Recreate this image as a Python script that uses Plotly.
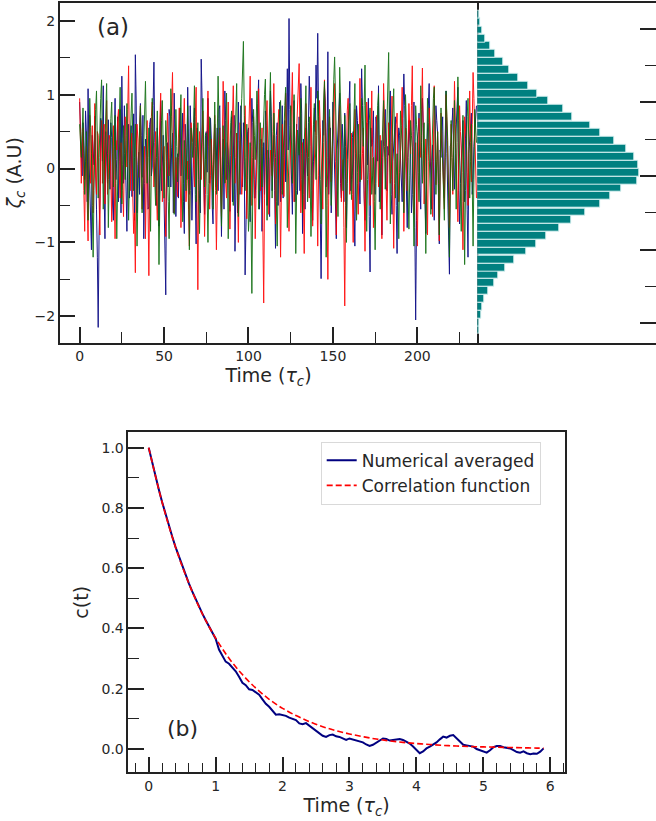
import numpy as np
import plotly.graph_objects as go

# ---------------- data: panel (a) ----------------
# values at integer times t = 0, 1, 2, ...
navy_vals = [
 0.90, 0.35, 0.62, -0.15, 0.48, 1.08, -0.32, -1.10, 0.25, 0.71, -0.55, -2.15, -0.40, 0.55, 1.12, -0.95, 0.18, 0.66, -0.28, 0.42,
 -0.70, 0.95, 0.12, -0.45, 0.80, 1.25, -0.20, 0.30, -0.85, 0.60, 0.05, -0.38, 0.74, 1.54, -0.60, 0.22, 0.88, -0.12, -0.95, 0.40,
 0.15, -0.52, 0.68, 0.02, 1.44, -0.30, 0.55, -0.78, 0.92, 0.10, -0.42, -1.71, 0.35, 0.80, -0.25, 0.48, 1.02, -0.65, 0.20, 0.58,
 -0.10, 0.75, -0.88, 0.30, 1.10, -0.35, 0.45, -0.05, 0.82, -1.02, 0.28, -0.40, 1.48, 0.15, -0.62, 0.50, 0.95, -0.20, 0.38, -0.75,
 0.60, 0.12, -0.30, 0.85, -0.92, 0.40, 1.05, -0.15, 0.25, -0.58, 0.70, 0.02, -1.12, 0.48, 0.90, -0.35, 0.18, 0.62, -1.44, 0.30,
 0.55, -0.72, 0.95, 0.08, -0.40, 0.68, 1.20, -0.22, -0.85, 0.35, 0.78, -0.50, 0.12, 1.05, -0.30, 0.45, -1.08, 0.62, 0.20, -0.45,
 0.85, 0.30, -0.18, 1.35, 2.03, 0.40, -0.62, 0.92, 0.15, -0.35, 0.70, 1.15, -0.88, 0.25, 0.55, -0.10, 1.25, 0.48, -0.70, 0.82,
 1.40, 1.83, 0.20, -1.49, 0.65, 1.10, -0.25, 1.58, 0.35, -0.60, 0.90, 0.05, -0.95, 0.60, 1.02, -0.40, 0.28, 0.75, -0.80, 0.42,
 1.18, -0.15, 0.50, -1.05, 0.85, 0.22, -0.48, 1.35, 0.10, -0.70, 0.62, 0.95, -1.40, 0.30, 0.78, -0.35, 0.52, 1.12, -0.22, -0.90,
 0.45, 0.80, -0.30, 0.18, 1.05, -0.62, 0.35, 0.70, -1.15, 0.55, 0.12, -0.45, 1.28, 0.38, -0.80, 0.65, 0.20, -0.35, 0.90, -2.05,
 0.40, 0.75, -0.55, 0.95, 0.08, -0.88, 0.60, 1.15, -0.20, 0.32, -0.70, 0.85, 0.48, -1.02, 0.15, 0.70, -0.40, 1.05, -0.62, -1.43,
 0.35, 0.82, -0.28, 0.55, 1.10, -0.75, 0.20, 0.65, -0.45, 0.92, -1.20, 0.38, 0.75, -0.15, 0.50, 0.85,
]
red_vals = [
 0.95, -0.20, 0.55, -0.85, 0.30, -0.98, 0.72, 0.10, -0.60, 0.88, -0.35, 0.45, -0.90, 0.65, 0.05, -0.48, 0.92, -0.15, 0.38, -0.72,
 0.58, -0.95, 0.25, 0.80, -0.40, 0.15, -0.65, 0.70, 0.02, 1.39, -0.30, 0.48, -0.88, -1.41, 0.60, -0.12, 0.85, -0.55, 0.22, -0.95,
 0.65, -1.45, 0.35, 0.90, -0.25, 0.50, -0.70, 0.18, 1.02, -0.45, 0.30, -0.92, 0.75, -0.10, 0.40, 1.30, -0.60, 0.15, -0.38, 0.82,
 -0.80, 0.28, 0.95, -0.45, 0.10, -1.05, 0.62, 0.35, -0.25, 1.10, -1.64, 0.50, -0.15, 0.78, -0.92, 0.20, 1.05, -0.55, 0.40, -0.30,
 0.72, -1.10, 0.25, 0.55, -0.65, 1.18, 0.08, -0.40, 0.90, -0.82, 0.35, 1.12, -0.20, 0.48, -1.00, 0.62, -0.35, 0.15, 0.85, -0.68,
 0.30, 1.25, -0.50, 0.70, -0.95, 0.18, 1.08, -0.30, 0.55, -1.82, 0.40, 0.92, -0.62, 0.25, -0.10, 1.15, -0.75, 0.45, 0.80, -1.20,
 0.60, -0.38, 1.02, 0.15, -0.85, 0.50, 1.30, -0.45, 0.22, 0.75, 1.42, -0.60, 0.35, -1.15, 0.88, 0.05, -0.40, 1.10, -0.78, 0.30,
 0.65, -1.05, 0.92, 0.20, -0.55, 1.20, 0.38, -1.50, 0.70, -0.18, 0.52, 1.15, -0.90, 0.28, 0.85, -0.45, 0.12, -1.86, 0.60, 0.95,
 -0.35, 0.48, -1.00, 0.80, 0.25, -0.62, 1.22, -0.15, 0.55, -1.12, 0.90, 0.35, -0.50, 1.05, -0.80, 0.18, 0.72, -0.25, 0.45, -0.95,
 1.15, 0.30, -0.70, 0.62, -0.20, 0.98, -1.08, 0.42, 0.75, -0.45, 0.12, 1.10, -0.85, 0.55, -0.30, 0.88, 0.20, 1.39, -0.62, 0.35,
 -1.05, 0.68, 0.15, 1.36, -0.48, 0.40, -0.90, 0.82, 0.28, -0.65, 1.12, -0.22, 0.50, -0.98, 0.75, 0.10, -0.55, 1.00, 0.32, -0.80,
 0.60, -0.35, 1.18, 0.05, -0.72, 0.85, 0.25, -1.10, 0.70, 0.42, -0.50, 1.05, -0.18, 1.30, 0.55, -0.40,
]
green_vals = [
 0.60, 0.15, 0.82, -0.35, 0.50, -0.70, 0.95, 0.20, -1.20, 0.45, 1.05, -0.40, 0.65, 1.20, -0.55, 0.30, 1.15, -0.80, 0.48, 0.90,
 -0.25, 0.72, -0.95, 0.35, 1.10, -0.48, 0.58, -0.15, 0.88, -0.70, 0.42, 1.02, -0.30, 0.60, -1.05, 0.25, 0.85, -0.60, 0.40, 1.18,
 -0.20, 0.55, -0.85, 0.95, 0.12, -0.50, 0.78, -1.30, 0.35, 0.92, -0.40, 0.65, 0.05, -0.95, 1.08, 0.28, -0.62, 0.80, -0.18, 0.50,
 1.00, -0.72, 0.38, -0.30, 0.85, -1.10, 0.55, 0.15, 1.12, -0.45, 0.62, -0.88, 0.30, 0.95, -0.25, 0.48, -1.00, 0.70, 0.20, -0.55,
 0.90, -0.35, 1.25, 0.10, -0.78, 0.58, -0.20, 1.02, -0.95, 0.45, 0.78, -0.50, 0.25, 1.15, -0.65, 0.40, 0.95, 1.72, -0.30, 0.60,
 -0.85, 0.35, -1.69, 0.80, 0.12, 1.05, -0.55, 0.62, -0.25, 0.90, 1.21, -0.70, 0.45, 1.30, -0.40, 0.75, 0.15, -1.05, 0.58, 0.92,
 -0.35, 0.65, 1.10, -0.80, 0.30, 0.85, -0.20, 1.00, -1.15, 0.52, 0.18, 0.95, -0.60, 0.40, 1.12, -0.45, 0.70, -0.92, 0.28, 0.88,
 -0.15, 1.05, 0.40, -0.75, 0.62, 1.18, -1.20, 0.35, 0.80, -0.50, 0.95, 1.51, 0.10, -0.65, 1.37, 0.45, -0.30, 0.72, -1.00, 0.55,
 0.88, -0.42, 0.25, 1.15, -0.70, 0.60, -0.18, 0.95, 0.30, 1.40, -0.85, 0.48, 0.82, -0.35, 0.15, -1.10, 0.70, 1.02, -0.55, 0.38,
 0.92, -0.28, 0.60, 1.57, -0.75, 0.45, 1.08, -0.40, 0.20, -0.95, 0.78, 0.35, -0.60, 1.00, 0.12, -0.82, 0.65, 0.28, -1.05, 0.85,
 0.40, -0.45, 1.12, -0.20, 0.62, -1.15, 0.95, 0.30, -0.62, 0.78, 1.10, -0.35, 0.50, -0.90, 0.82, 0.15, -0.70, 1.05, 0.38, -1.20,
 0.65, -0.30, 0.92, -0.55, 1.24, 0.20, -0.85, 0.72, -1.30, 0.48, 0.95, -0.40, 0.60, -1.05, 0.80, 0.35,
]
# values at half-integer times t = 0.5, 1.5, 2.5, ...
navy_half = [
 0.55, -0.10, 0.30, 0.78, -0.45, 0.20, -0.80, 0.45, 0.05, -0.30, -1.20, -0.90, 0.68, 0.10, -0.35, 0.50, -0.20, 0.25, 0.62, -0.48,
 0.30, -0.15, 0.70, 0.10, -0.60, 0.40, 0.85, -0.25, 0.20, -0.40, 0.58, 0.15, -0.70, 0.90, 0.05, -0.35, 0.45, 0.72, -0.20, 0.30,
 -0.55, 0.60, -0.10, 0.85, 0.35, -0.50, 0.18, 0.62, -0.30, 0.45, -0.95, 0.10, -0.25, 0.70, 0.28, -0.60, 0.38, 0.05, -0.40, 0.82,
 0.25, -0.45, 0.60, -0.15, 0.40, 0.85, -0.70, 0.30, -0.35, 0.55, 0.12, -0.60, 0.95, -0.20, 0.45, -0.05, 0.30, 0.68, -0.50, 0.22,
 -0.25, 0.55, 0.80, -0.40, 0.10, -0.55, 0.65, 0.35, -0.30, 0.18, -0.45, 0.72, 0.05, -0.60, 0.38, 0.85, -0.25, 0.10, -0.75, 0.50,
 -0.15, 0.30, 0.62, -0.40, 0.20, 0.88, -0.55, 0.40, 0.12, -0.35, 0.58, 0.25, -0.65, 0.70, 0.08, -0.30, 0.45, -0.50, 0.90, 0.20,
 -0.40, 0.65, 0.95, 0.25, 0.80, -0.20, 0.35, -0.45, 0.60, 0.15, -0.30, 0.75, 0.40, -0.55, 0.20, 0.62, 0.85, -0.25, 0.10, 0.50,
 0.95, 0.70, -0.60, 0.30, 0.45, 0.90, 0.15, -0.35, 0.55, -0.10, 0.38, -0.50, 0.25, 0.80, -0.20, 0.60, -0.45, 0.30, 0.12, 0.70,
 -0.30, 0.42, -0.55, 0.20, 0.65, -0.15, 0.48, 0.85, -0.40, 0.25, 0.05, -0.65, 0.55, 0.35, -0.20, 0.70, 0.10, -0.45, 0.38, 0.15,
 0.62, -0.25, 0.30, 0.78, -0.35, 0.10, 0.55, -0.50, 0.22, 0.45, -0.30, 0.68, 0.85, -0.20, 0.15, 0.40, -0.60, 0.50, -0.80, -0.70,
 0.50, -0.25, 0.35, 0.62, -0.40, 0.18, 0.80, 0.30, -0.55, 0.10, 0.45, 0.65, -0.35, 0.25, 0.50, -0.15, 0.40, 0.20, -0.90, 0.30,
 0.55, 0.10, 0.28, 0.75, -0.30, -0.20, 0.45, 0.15, 0.40, -0.55, 0.20, 0.58, -0.35, 0.30, 0.65,
]
red_half = [
 0.40, 0.25, -0.30, 0.10, -0.45, 0.30, -0.20, 0.58, 0.15, -0.10, 0.50, -0.40, 0.25, -0.20, 0.60, 0.30, -0.35, 0.45, -0.15, 0.20,
 -0.25, 0.38, 0.65, -0.10, 0.35, -0.30, 0.20, 0.45, 0.80, 0.10, 0.25, -0.40, -0.60, 0.15, 0.40, 0.50, -0.20, -0.15, 0.30, -0.30,
 -0.50, -0.20, 0.70, 0.25, 0.10, -0.35, -0.15, 0.62, 0.30, -0.05, -0.45, 0.20, 0.35, 0.15, 0.85, 0.20, -0.30, -0.10, 0.40, 0.05,
 -0.25, 0.60, 0.30, -0.20, -0.55, 0.20, 0.48, 0.05, 0.70, -0.40, -0.30, 0.20, 0.35, -0.15, -0.35, 0.60, 0.25, -0.10, 0.05, 0.30,
 -0.30, -0.35, 0.40, 0.10, 0.35, 0.55, -0.20, 0.30, 0.05, -0.25, 0.68, 0.40, 0.15, -0.35, -0.20, 0.10, -0.10, 0.45, 0.25, -0.15,
 0.75, 0.38, 0.15, -0.15, -0.30, 0.62, 0.35, 0.12, -0.80, -0.40, 0.65, 0.10, -0.20, 0.08, 0.50, 0.20, -0.15, 0.60, -0.25, -0.30,
 0.15, 0.30, 0.55, -0.40, -0.10, 0.85, 0.40, -0.10, 0.48, 0.95, 0.30, -0.15, -0.35, -0.05, 0.45, -0.20, 0.30, 0.20, -0.25, 0.45,
 -0.30, -0.10, 0.55, -0.20, 0.35, 0.75, -0.50, -0.40, 0.25, 0.15, 0.82, 0.10, -0.30, 0.55, 0.20, -0.15, -0.80, -0.50, 0.78, 0.30,
 0.05, -0.35, 0.10, 0.50, -0.20, 0.35, 0.40, 0.20, -0.30, -0.10, 0.62, -0.05, 0.30, 0.15, -0.25, 0.45, 0.30, 0.10, -0.20, 0.05,
 0.70, -0.25, -0.05, 0.20, 0.35, -0.30, -0.20, 0.60, 0.15, -0.15, 0.58, 0.05, -0.15, 0.10, 0.30, 0.55, 0.85, 0.30, -0.10, -0.40,
 -0.10, 0.40, 0.80, 0.45, -0.05, -0.30, 0.10, 0.55, -0.20, 0.25, 0.40, 0.12, -0.30, -0.05, 0.40, -0.25, 0.30, 0.65, -0.25, -0.10,
 0.15, 0.40, 0.60, -0.35, 0.10, 0.50, -0.45, -0.20, 0.55, -0.05, 0.30, 0.35, 0.60, 0.95, 0.05,
]
green_half = [
 0.35, 0.50, 0.20, 0.10, -0.15, 0.25, 0.55, -0.50, -0.30, 0.80, 0.30, 0.15, 0.95, 0.30, -0.10, 0.70, 0.20, -0.15, 0.68, 0.35,
 0.25, -0.20, -0.25, 0.70, 0.30, 0.05, 0.20, 0.38, 0.10, -0.15, 0.75, 0.35, 0.15, -0.25, -0.40, 0.55, 0.10, -0.10, 0.80, 0.45,
 0.15, -0.20, 0.10, 0.50, -0.20, 0.15, -0.30, -0.45, 0.65, 0.25, 0.10, 0.35, -0.45, 0.05, 0.70, -0.15, 0.10, 0.30, 0.15, 0.75,
 0.10, -0.20, 0.05, 0.28, -0.15, -0.30, 0.35, 0.62, 0.30, 0.10, -0.15, -0.25, 0.65, 0.30, 0.12, -0.35, -0.20, 0.45, -0.15, 0.20,
 0.25, 0.40, 0.68, -0.35, -0.10, 0.20, 0.40, 0.05, -0.25, 0.62, 0.15, -0.10, 0.70, 0.25, -0.15, 0.68, 1.30, 0.72, 0.15, -0.10,
 -0.60, -0.70, -0.40, 0.45, 0.60, 0.25, 0.05, 0.20, 0.30, 1.00, 0.20, -0.15, 0.85, 0.45, 0.20, 0.45, -0.45, -0.20, 0.75, 0.30,
 0.15, 0.85, 0.15, -0.25, 0.58, 0.30, 0.40, 0.05, -0.30, 0.35, 0.55, 0.20, -0.10, 0.78, 0.30, 0.15, -0.10, -0.30, 0.60, 0.35,
 0.45, 0.70, -0.15, -0.05, 0.90, -0.10, -0.40, 0.55, 0.15, 0.20, 1.20, 0.85, -0.30, 0.40, 0.90, 0.05, 0.20, -0.15, -0.20, 0.70,
 0.25, -0.10, 0.70, 0.25, -0.05, 0.20, 0.40, 0.65, 0.85, 0.25, -0.15, 0.65, 0.25, -0.10, -0.45, -0.20, 0.85, 0.25, -0.10, 0.65,
 0.30, 0.15, 1.05, 0.40, -0.15, 0.75, 0.35, -0.10, -0.35, -0.05, 0.55, 0.10, 0.20, 0.55, -0.30, -0.10, 0.45, -0.35, -0.10, 0.60,
 -0.05, 0.30, 0.45, 0.20, -0.25, -0.10, 0.62, -0.15, 0.10, 0.95, 0.40, 0.10, -0.20, -0.05, 0.48, -0.25, 0.15, 0.70, -0.40, -0.30,
 0.15, 0.30, 0.20, 0.35, 0.65, -0.30, -0.05, -0.25, -0.30, 0.70, 0.25, 0.10, -0.20, -0.10, 0.55,
]

# histogram (horizontal bars), bin centres bottom -> top, counts (arb. units)
hist_bins = [-2.09, -1.99, -1.88, -1.77, -1.67, -1.56, -1.45, -1.34, -1.24, -1.13,
             -1.02, -0.92, -0.81, -0.70, -0.59, -0.49, -0.38, -0.27, -0.16, -0.06,
             0.05, 0.16, 0.26, 0.37, 0.48, 0.59, 0.69, 0.80, 0.91, 1.02,
             1.12, 1.23, 1.34, 1.44, 1.55, 1.66, 1.77, 1.87, 1.98, 2.09, 2.19]
hist_counts = [1.7, 2.3, 4.0, 5.0, 7.3, 11.3, 16.7, 21.3, 28.0, 37.0,
               49.0, 59.0, 69.0, 82.0, 94.3, 108.3, 122.7, 132.7, 144.3, 159.7,
               162.3, 161.0, 156.7, 149.0, 137.3, 123.3, 112.7, 94.7, 85.7, 71.3,
               59.7, 51.0, 41.3, 32.3, 25.7, 18.0, 12.7, 7.7, 5.3, 3.3, 1.7]

# ---------------- data: panel (b) ----------------
corr_num = [
 1.000, 0.952, 0.905, 0.862, 0.820, 0.779, 0.742, 0.706, 0.671, 0.639,
 0.607, 0.578, 0.550, 0.523, 0.497, 0.472, 0.450, 0.428, 0.406, 0.386,
 0.366, 0.330, 0.310, 0.290, 0.283, 0.272, 0.258, 0.240, 0.220, 0.212,
 0.198, 0.196, 0.188, 0.180, 0.165, 0.150, 0.140, 0.128, 0.114, 0.115,
 0.112, 0.110, 0.104, 0.100, 0.096, 0.085, 0.082, 0.086, 0.078, 0.070,
 0.060, 0.052, 0.044, 0.040, 0.046, 0.048, 0.042, 0.040, 0.034, 0.030,
 0.035, 0.032, 0.030, 0.026, 0.022, 0.015, 0.010, 0.014, 0.022, 0.030,
 0.035, 0.033, 0.028, 0.030, 0.031, 0.033, 0.030, 0.024, 0.018, 0.008,
 -0.004, -0.014, -0.008, 0.002, 0.008, 0.014, 0.022, 0.032, 0.041, 0.038,
 0.044, 0.046, 0.036, 0.024, 0.014, 0.012, 0.010, 0.008, 0.000, -0.004,
 -0.010, -0.012, -0.004, 0.006, 0.010, 0.010, 0.006, 0.004, 0.002, -0.004,
 -0.010, -0.012, -0.008, -0.014, -0.017, -0.015, -0.016, -0.009, 0.002,
]
time_num = np.round(np.arange(len(corr_num)) * 0.05, 2)

time_theory = [0.0, 0.2, 0.4, 0.6, 0.8, 1.0, 1.2, 1.4, 1.6, 1.8, 2.0, 2.2, 2.4, 2.6, 2.8, 3.0,
               3.2, 3.4, 3.6, 3.8, 4.0, 4.2, 4.4, 4.6, 4.8, 5.0, 5.2, 5.4, 5.6, 5.8, 5.9]
corr_theory = [1.000, 0.819, 0.670, 0.549, 0.449, 0.368, 0.301, 0.247, 0.202, 0.165, 0.135,
               0.111, 0.091, 0.074, 0.061, 0.050, 0.041, 0.033, 0.027, 0.022, 0.018,
               0.015, 0.012, 0.010, 0.008, 0.007, 0.006, 0.005, 0.004, 0.003, 0.003]


def merged(whole, half):
    """Combine integer-time and half-integer-time samples into one time-ordered series."""
    t = np.concatenate([np.arange(len(whole)), np.arange(len(half)) + 0.5])
    v = np.concatenate([whole, half])
    order = np.argsort(t)
    return t[order], v[order]


# ---------------- figure ----------------
W, H = 656, 821
FONT = "DejaVu Sans"
TXT = "#262626"
FR = "#222222"

fig = go.Figure()

for whole, half, col in [(navy_vals, navy_half, "#000080"),
                         (red_vals, red_half, "#ff0000"),
                         (green_vals, green_half, "#0b6b0b")]:
    t, v = merged(whole, half)
    fig.add_trace(go.Scatter(x=t, y=v, mode="lines", line=dict(color=col, width=1),
                             opacity=0.9, showlegend=False, xaxis="x", yaxis="y"))

fig.add_trace(go.Bar(y=hist_bins, x=hist_counts, orientation="h", width=0.107,
                     marker=dict(color="#008080", line=dict(color="rgba(225,245,245,0.95)", width=1)),
                     showlegend=False, xaxis="x2", yaxis="y2"))

fig.add_trace(go.Scatter(x=time_num, y=corr_num, mode="lines", name="Numerical averaged",
                         line=dict(color="#000080", width=2), xaxis="x3", yaxis="y3"))
fig.add_trace(go.Scatter(x=time_theory, y=corr_theory, mode="lines", name="Correlation function",
                         line=dict(color="#ff0000", width=1.6, dash="6px,3px", shape="spline"),
                         xaxis="x3", yaxis="y3"))


def px_x(a, b):
    return [a / W, b / W]


def px_y(top, bottom):
    return [1 - bottom / H, 1 - top / H]


tickfont = dict(family=FONT, size=14, color=TXT)
titlefont = dict(family=FONT, size=19, color=TXT)
common = dict(showline=True, linecolor=FR, linewidth=1.5, ticks="inside", tickcolor=FR,
              tickwidth=1.5, ticklen=16, tickfont=tickfont, showgrid=False, zeroline=False)

top_dom_y = px_y(2.7, 342.7)

fig.update_layout(
    width=W, height=H, autosize=False,
    margin=dict(l=0, r=0, t=0, b=0),
    paper_bgcolor="white", plot_bgcolor="white",
    font=dict(family=FONT, color=TXT),
    bargap=0,
    xaxis=dict(domain=px_x(59.7, 477.3), range=[-11.8, 235.5], anchor="y", mirror=True,
               tickvals=[0, 50, 100, 150, 200],
               minor=dict(ticks="inside", ticklen=11, tickwidth=1, tickcolor=FR, dtick=25, tick0=0),
               title=dict(text="Time (<i>τ<sub>c</sub></i>)", font=titlefont, standoff=2), **common),
    yaxis=dict(domain=top_dom_y, range=[-2.357, 2.244], anchor="x", mirror=True,
               tickvals=[-2, -1, 0, 1, 2], ticktext=["−2", "−1", "0", "1", "2"],
               minor=dict(ticks="inside", ticklen=11, tickwidth=1, tickcolor=FR, dtick=0.5, tick0=0),
               title=dict(text="<i>ζ<sub>c</sub></i> (A.U)", font=titlefont, standoff=8), **common),
    xaxis2=dict(domain=px_x(477.3, 656), range=[0, 178.7], anchor="y2", showline=True, mirror=True,
                linecolor=FR, linewidth=1.5, ticks="", showticklabels=False, showgrid=False, zeroline=False),
    yaxis2=dict(domain=top_dom_y, range=[-2.262, 2.353], anchor="x2", side="right", showline=False,
                ticks="inside", tickcolor=FR, tickwidth=1.5, ticklen=16, showticklabels=False,
                tickvals=[-2, -1, 0, 1, 2],
                minor=dict(ticks="inside", ticklen=11, tickwidth=1, tickcolor=FR, dtick=0.5, tick0=0),
                showgrid=False, zeroline=False),
    xaxis3=dict(domain=px_x(128.3, 565), range=[-0.305, 6.22], anchor="y3", mirror=True,
                tickvals=[0, 1, 2, 3, 4, 5, 6],
                minor=dict(ticks="inside", ticklen=10, tickwidth=1, tickcolor=FR, dtick=0.2, tick0=0),
                title=dict(text="Time (<i>τ<sub>c</sub></i>)", font=titlefont, standoff=2), **common),
    yaxis3=dict(domain=px_y(432.3, 772.3), range=[-0.0773, 1.051], anchor="x3", mirror=True,
                tickvals=[0, 0.2, 0.4, 0.6, 0.8, 1.0], tickformat=".1f",
                minor=dict(ticks="inside", ticklen=11, tickwidth=1, tickcolor=FR, dtick=0.1, tick0=0),
                title=dict(text="c(t)", font=titlefont, standoff=8), **common),
    legend=dict(x=320.7 / W, y=1 - 441.7 / H, xanchor="left", yanchor="top",
                bgcolor="white", bordercolor="#d9d9d9", borderwidth=1,
                font=dict(family=FONT, size=17, color=TXT), tracegroupgap=2),
    annotations=[
        dict(text="(a)", x=113 / W, y=1 - 27 / H, xref="paper", yref="paper", showarrow=False,
             xanchor="center", yanchor="middle", font=dict(family=FONT, size=23, color=TXT)),
        dict(text="(b)", x=182 / W, y=1 - 728 / H, xref="paper", yref="paper", showarrow=False,
             xanchor="center", yanchor="middle", font=dict(family=FONT, size=22, color=TXT)),
    ],
)

fig.write_html("out.html")
